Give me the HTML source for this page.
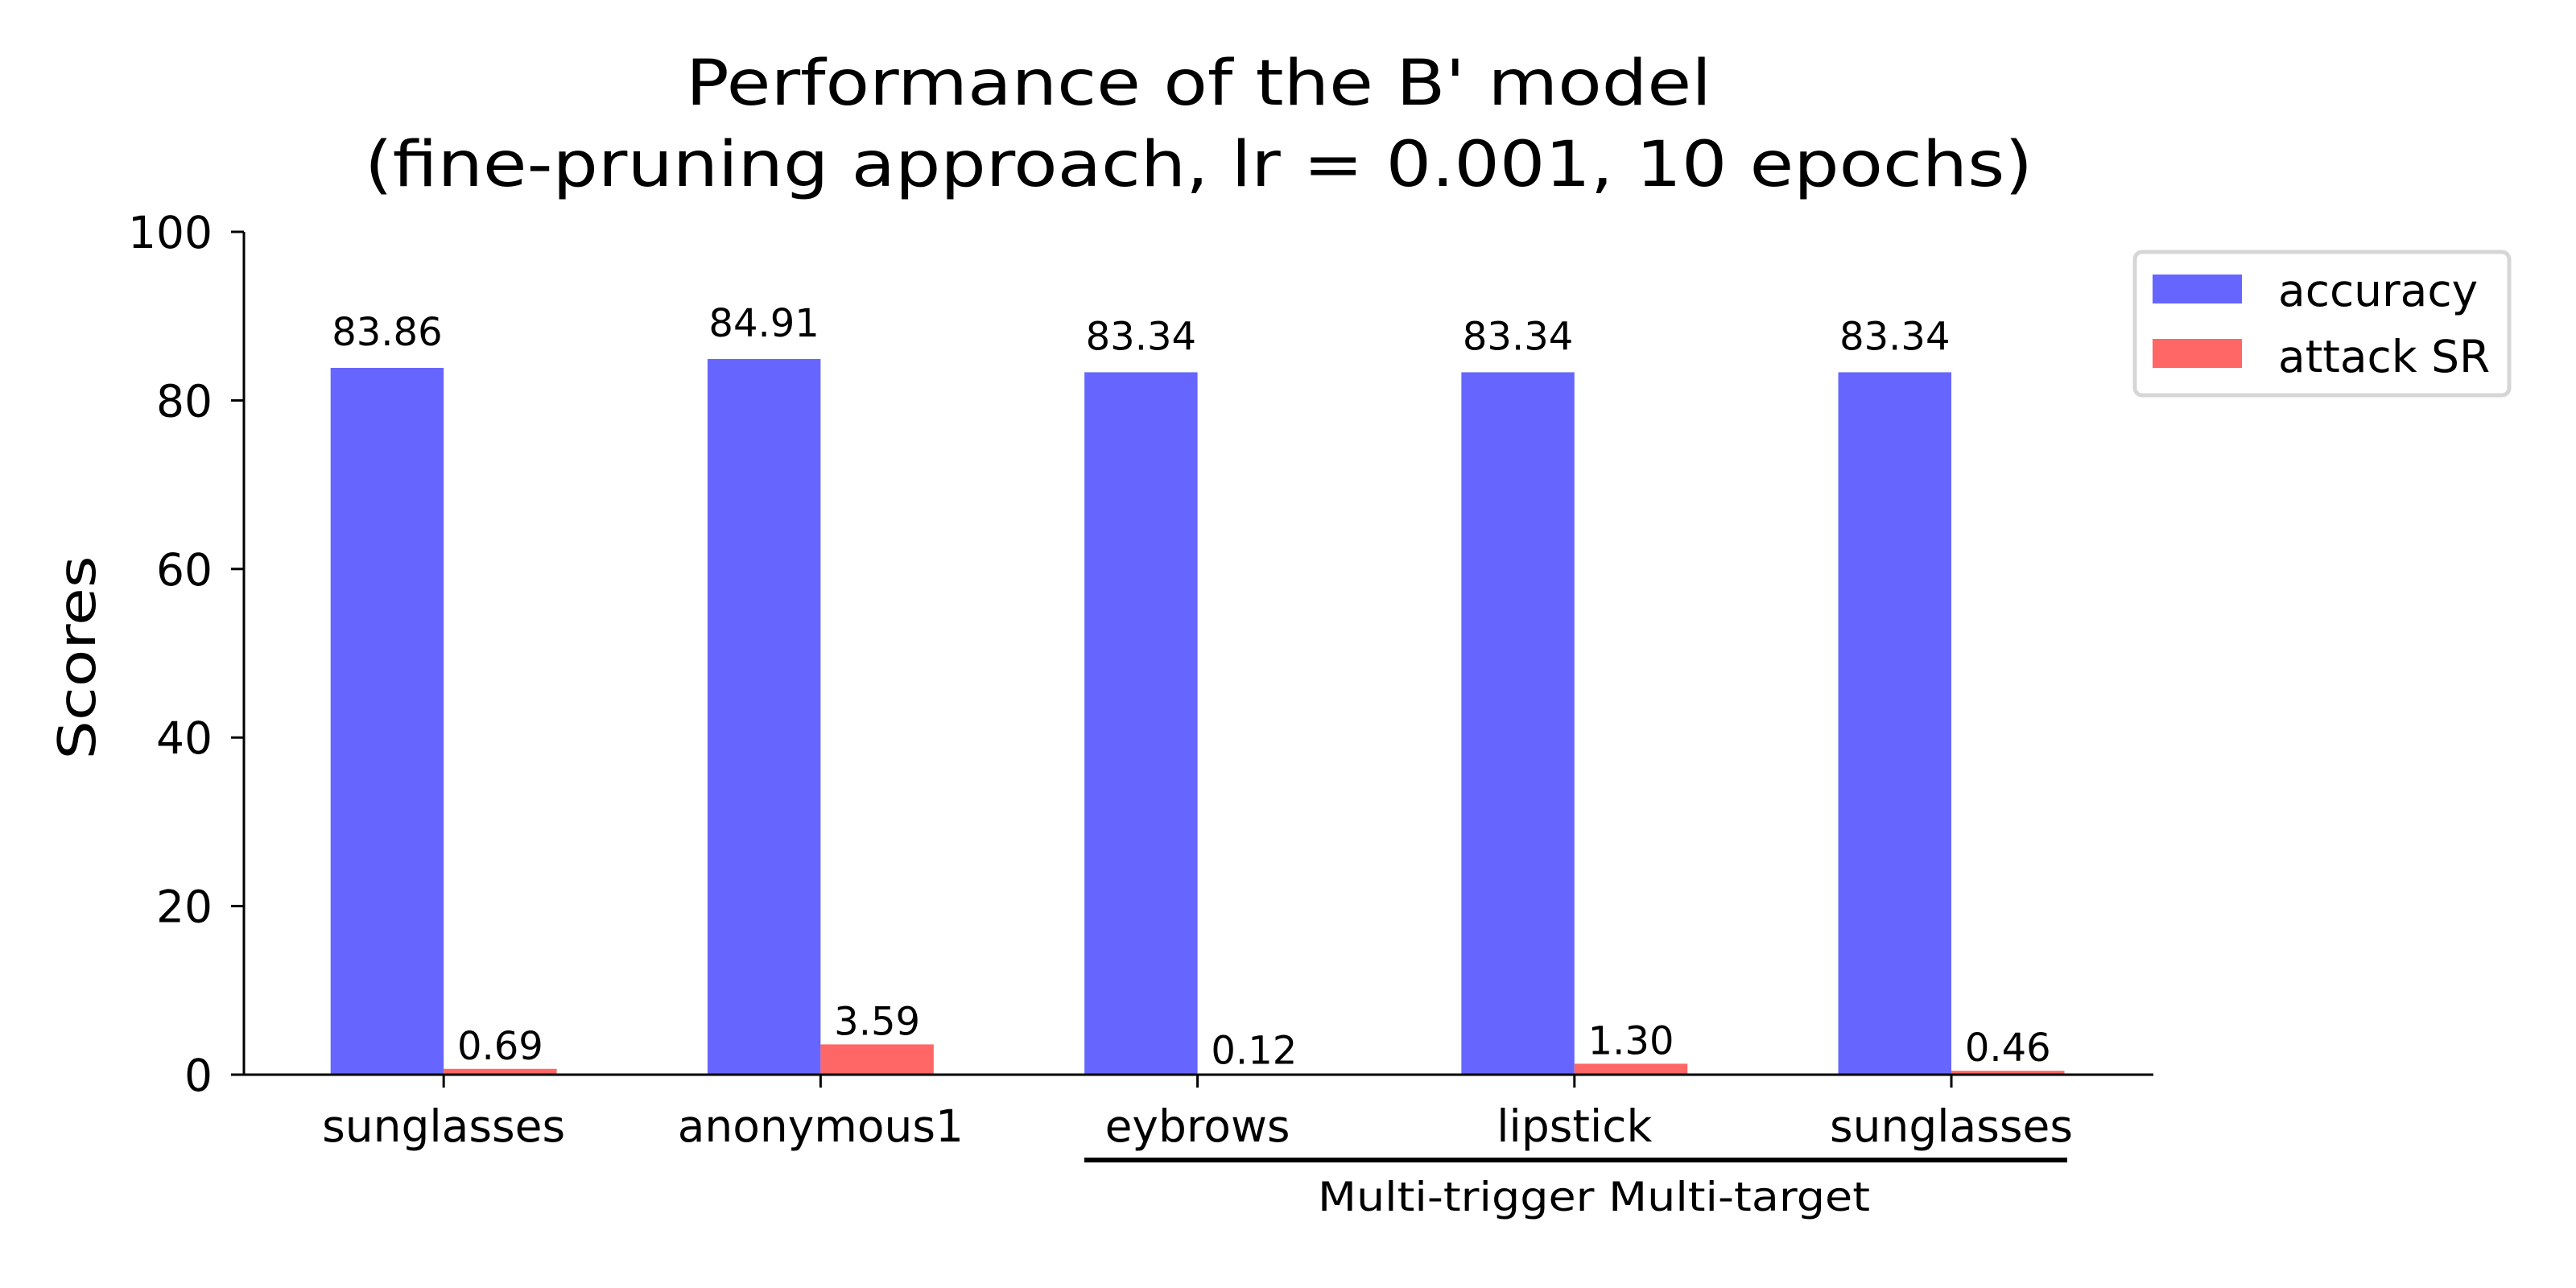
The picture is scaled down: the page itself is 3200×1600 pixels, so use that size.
<!DOCTYPE html>
<html><head><meta charset="utf-8"><style>
html,body{margin:0;padding:0;background:#fff;}
svg{display:block;}
text{font-family:"DejaVu Sans","Liberation Sans",sans-serif;fill:#000;}
</style></head>
<body>
<svg id="chart" width="3200" height="1600" viewBox="0 0 3200 1600" xmlns="http://www.w3.org/2000/svg">
<rect width="3200" height="1600" fill="#fff"/>
<text x="1489" y="130" font-size="78" text-anchor="middle" textLength="1274" lengthAdjust="spacingAndGlyphs">Performance of the B' model</text>
<text x="1489" y="231" font-size="78" text-anchor="middle" textLength="2072" lengthAdjust="spacingAndGlyphs">(fine-pruning approach, lr = 0.001, 10 epochs)</text>
<text transform="translate(118,817) rotate(-90)" font-size="64" text-anchor="middle" textLength="253" lengthAdjust="spacingAndGlyphs">Scores</text>
<g id="plot"></g>
<g>
<rect x="2652" y="313" width="465" height="178" rx="9" fill="#fff" stroke="#d6d6d6" stroke-width="5"/>
<rect x="2674" y="341" width="111" height="36" fill="#6666ff"/>
<text x="2830" y="380" font-size="55">accuracy</text>
<rect x="2674" y="421" width="111" height="36" fill="#ff6666"/>
<text x="2830" y="462" font-size="55">attack SR</text>
</g>
<line x1="1347" y1="1441" x2="2568" y2="1441" stroke="#000" stroke-width="6"/>
<text x="1980" y="1504" font-size="50" text-anchor="middle" textLength="686" lengthAdjust="spacingAndGlyphs">Multi-trigger Multi-target</text>
</svg>
<script>
const categories = ["sunglasses","anonymous1","eybrows","lipstick","sunglasses"];
const accuracy = [83.86, 84.91, 83.34, 83.34, 83.34];
const attackSR = [0.69, 3.59, 0.12, 1.30, 0.46];
const yTicks = [0, 20, 40, 60, 80, 100];

const NS = "http://www.w3.org/2000/svg";
const plot = document.getElementById('plot');
const X0 = 303, X1 = 2675, Y0 = 1335, Y100 = 288;
const xMin = -0.530, xMax = 4.536;
function xs(v){ return X0 + (v - xMin) / (xMax - xMin) * (X1 - X0); }
function ys(v){ return Y0 - v / 100 * (Y0 - Y100); }
const bw = xs(0.3) - xs(0);
function mk(tag, attrs){ const e = document.createElementNS(NS, tag); for (const k in attrs) e.setAttribute(k, attrs[k]); plot.appendChild(e); return e; }

categories.forEach((c, i) => {
  const cx = xs(i);
  const b = mk('rect', {x: cx - bw, y: ys(accuracy[i]), width: bw, height: Y0 - ys(accuracy[i]), fill: '#6666ff'});
  
  
  const r = mk('rect', {x: cx, y: ys(attackSR[i]), width: bw, height: Y0 - ys(attackSR[i]), fill: '#ff6666'});
  
  
  const la = mk('text', {x: cx - bw/2, y: ys(accuracy[i]) - 28, 'font-size': 48, 'text-anchor': 'middle'});
  la.textContent = accuracy[i].toFixed(2);
  
  
  const lr = mk('text', {x: cx + bw/2, y: ys(attackSR[i]) - 12, 'font-size': 48, 'text-anchor': 'middle'});
  lr.textContent = attackSR[i].toFixed(2);
  
  
  const t = mk('line', {x1: cx, y1: Y0, x2: cx, y2: Y0 + 16, stroke: '#000', 'stroke-width': 3});
  
  
  const tl = mk('text', {x: cx, y: 1418, 'font-size': 55, 'text-anchor': 'middle'});
  tl.textContent = c;
  
  
});

yTicks.forEach(v => {
  const t = mk('line', {x1: X0 - 16, y1: ys(v), x2: X0, y2: ys(v), stroke: '#000', 'stroke-width': 3});
  
  
  const tl = mk('text', {x: 264, y: ys(v) + 20, 'font-size': 55, 'text-anchor': 'end'});
  tl.textContent = v;
  
  
});

const ya = mk('line', {x1: X0, y1: Y100, x2: X0, y2: Y0 + 1.5, stroke: '#000', 'stroke-width': 3});


const xa = mk('line', {x1: X0 - 1.5, y1: Y0, x2: X1, y2: Y0, stroke: '#000', 'stroke-width': 3});


</script>
</body></html>
